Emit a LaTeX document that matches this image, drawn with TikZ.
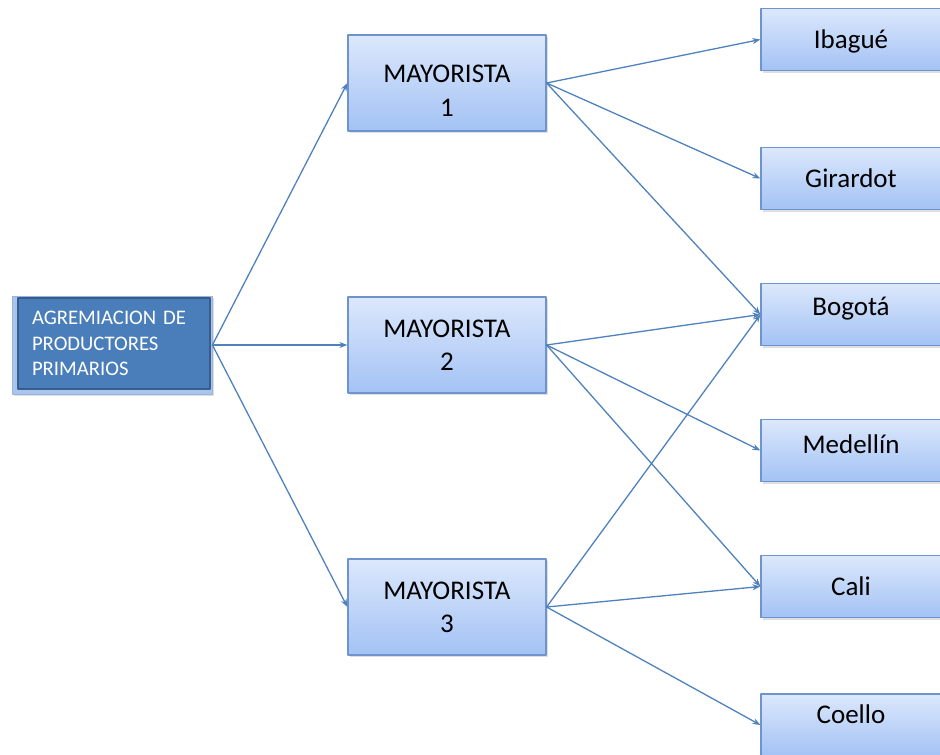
\documentclass[tikz,border=0pt]{standalone}
\usepackage{fontspec}
\setmainfont{Carlito}
\usetikzlibrary{arrows.meta,shadows}
\definecolor{borde}{HTML}{6D94CF}
\definecolor{arriba}{HTML}{DCE8FC}
\definecolor{abajo}{HTML}{A3C2F4}
\definecolor{linea}{HTML}{4F81BD}
\definecolor{oscuro}{HTML}{4A7EBB}
\definecolor{bordeosc}{HTML}{385D8A}
\definecolor{claro}{HTML}{A9C4EE}
\newcommand{\bajar}[2]{\raisebox{#1}[\height][\depth]{#2}}
\begin{document}
\begin{tikzpicture}[x=1pt,y=-1pt,line join=round,line cap=round,
	caja/.style={draw=borde,line width=1.2pt,top color=arriba,bottom color=abajo,
		minimum width=198pt,minimum height=96pt,align=center,
		font=\fontsize{27}{33}\selectfont,
		drop shadow={opacity=0.25,shadow xshift=2pt,shadow yshift=-2pt}},
	ciudad/.style={caja,minimum width=180pt,minimum height=62pt},
	flecha/.style={draw=linea,line width=1.3pt,-{Stealth[length=8pt,width=6pt]}}]
			\useasboundingbox (0,0) rectangle (940,755);
			% productores
			\node[draw=borde!70,line width=0.8pt,fill=claro,minimum width=200pt,minimum height=98pt,
				drop shadow={opacity=0.25,shadow xshift=2pt,shadow yshift=-2pt}] (agrem) at (112,345) {};
			\node[draw=bordeosc,line width=2pt,fill=oscuro,text=white,minimum height=91pt,
				text width=164pt,inner xsep=14pt,align=left,font=\fontsize{20.7}{25.5}\selectfont]
				(agremtxt) at (114,343.5) {AGREMIACION DE\\PRODUCTORES\\PRIMARIOS};
			% mayoristas
			\node[caja] (may1) at (447,83) {\bajar{-10pt}{\begin{tabular}{@{}c@{}}MAYORISTA\\[1pt]1\end{tabular}}};
			\node[caja] (may2) at (447,345) {MAYORISTA\\2};
			\node[caja] (may3) at (447,607) {MAYORISTA\\3};
			% ciudades
			\node[ciudad] (ibague) at (851,39.5) {\bajar{-2pt}{Ibagué}};
			\node[ciudad] (girardot) at (851,178.5) {Girardot};
			\node[ciudad] (bogota) at (851,314.5) {\bajar{6pt}{Bogotá}};
			\node[ciudad] (medellin) at (851,450.5) {\bajar{6pt}{Medellín}};
			\node[ciudad] (cali) at (851,586.5) {Cali};
			\node[ciudad] (coello) at (851,725) {\bajar{11pt}{Coello}};
			\foreach \m in {may1,may2,may3}
				\draw[flecha] (agrem.east) -- (\m.west);
			\foreach \a/\b in {may1/ibague,may1/girardot,may1/bogota,
				may2/bogota,may2/medellin,may2/cali,
				may3/bogota,may3/cali,may3/coello}
				\draw[flecha] (\a.east) -- (\b.west);
\end{tikzpicture}
\end{document}
